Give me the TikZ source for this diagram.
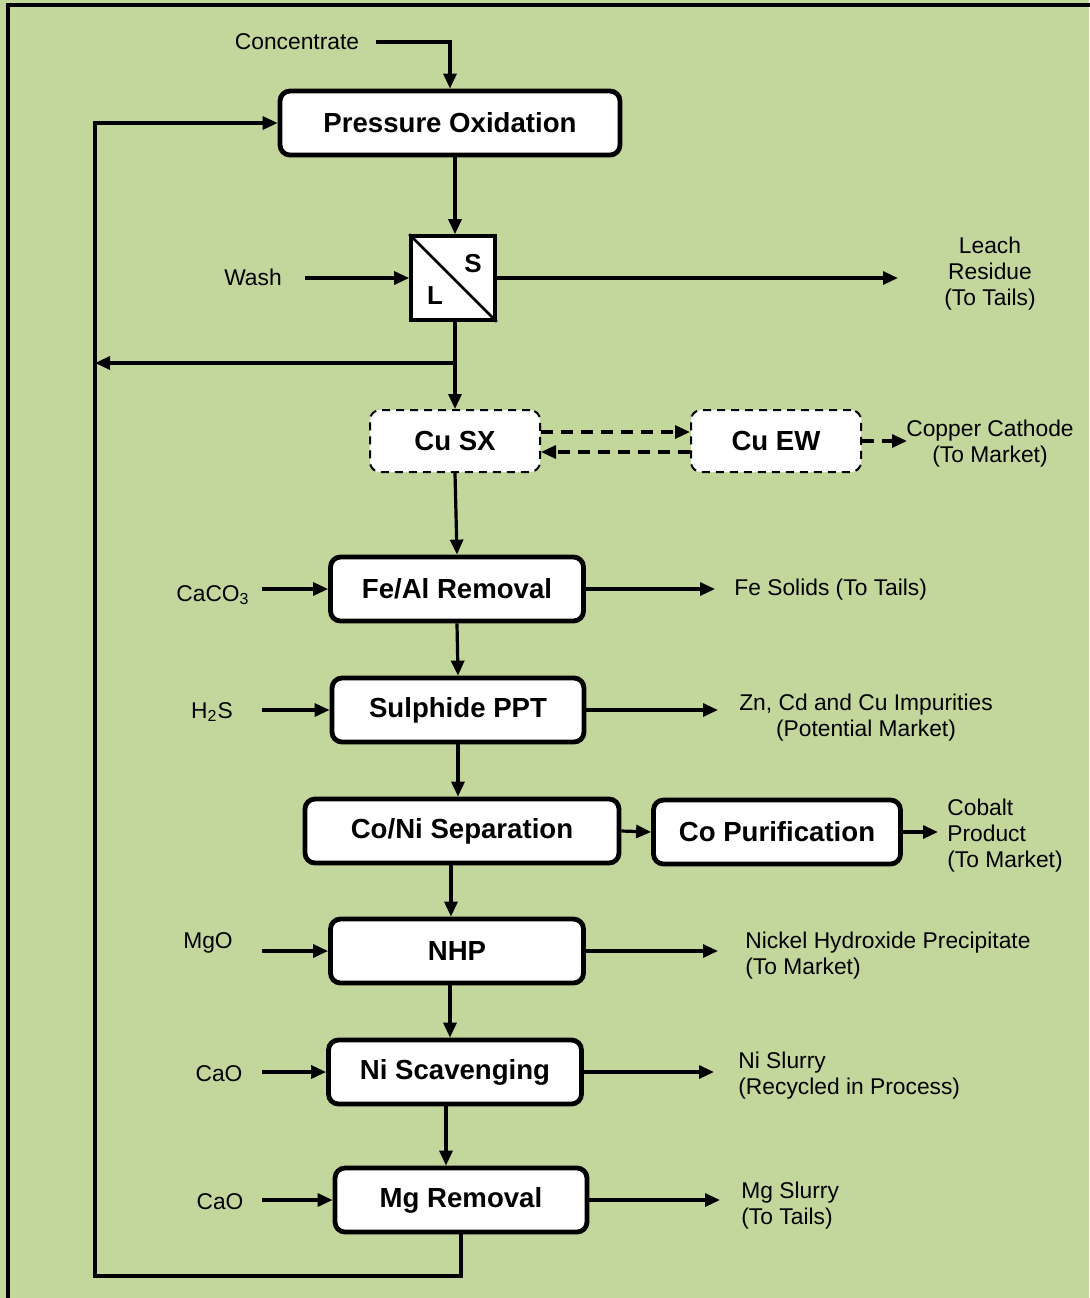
\documentclass[tikz,border=0pt]{standalone}
\usepackage{fontspec}
\setmainfont{Liberation Sans}
\usetikzlibrary{arrows.meta}
\definecolor{leafgreen}{HTML}{C3D69B}

\begin{document}
\begin{tikzpicture}[x=0.5pt, y=-0.5pt, >={Triangle[length=7.5pt,width=6.5pt]},
    proc/.style={draw, line width=2.4pt, rounded corners=5pt, fill=white, inner sep=0pt,
        minimum height=32pt, font=\bfseries\fontsize{13.8}{15}\selectfont},
    dbox/.style={draw, dashed, line width=1pt, dash pattern=on 4pt off 3pt, rounded corners=5pt,
        fill=white, inner sep=0pt, minimum width=85pt, minimum height=31pt,
        font=\bfseries\fontsize{13.8}{15}\selectfont},
    lbl/.style={inner sep=0pt, font=\fontsize{11.4}{13}\selectfont},
    flow/.style={line width=1.6pt},
    dflow/.style={line width=1.6pt, dash pattern=on 6pt off 4pt}]
    \useasboundingbox (0,0) rectangle (1089,1298);
    \fill[leafgreen] (0,0) rectangle (1089,1298);
    \draw[line width=1.6pt] (8,1320) -- (8,5) -- (1100,5);

    % main column
    \node[proc, minimum width=170pt] (po) at (450,123) {Pressure Oxidation};
    \node[draw, fill=white, line width=1.8pt, minimum size=42pt, inner sep=0pt] (sl) at (453,278) {};
    \draw[line width=1.3pt] (sl.north west) -- (sl.south east);
    \node[font=\bfseries\fontsize{13}{15}\selectfont] (slS) at (473,264) {S};
    \node[font=\bfseries\fontsize{13}{15}\selectfont] (slL) at (435,296) {L};
    \node[dbox] (cusx) at (455,441) {Cu SX};
    \node[dbox] (cuew) at (776,441) {Cu EW};
    \node[proc, minimum width=126.5pt] (feal) at (457,589) {Fe/Al Removal};
    \node[proc, minimum width=126pt] (sulph) at (458,710) {Sulphide PPT};
    \node[proc, minimum width=157pt] (coni) at (462,831) {Co/Ni Separation};
    \node[proc, minimum width=123.5pt] (copur) at (777,832) {Co Purification};
    \node[proc, minimum width=126.5pt] (nhp) at (457,951) {NHP};
    \node[proc, minimum width=126.5pt] (nisc) at (455,1072) {Ni Scavenging};
    \node[proc, minimum width=126pt] (mgrem) at (461,1200) {Mg Removal};

    % feeds
    \node[lbl] (conc) at (297,42) {Concentrate};
    \node[lbl] (wash) at (253,277) {Wash};
    \node[lbl] (caco) at (213,595) {CaCO\textsubscript{3}};
    \node[lbl] (hs) at (212,712) {H\textsubscript{2}S};
    \node[lbl] (mgo) at (208,943) {MgO};
    \node[lbl] (caoa) at (219,1074) {CaO};
    \node[lbl] (caob) at (220,1202) {CaO};
    \coordinate (concin) at (376,42);
    \coordinate (washin) at (305,278);
    \coordinate (cacoin) at (262,589);
    \coordinate (hsin) at (262,710);
    \coordinate (mgoin) at (262,951);
    \coordinate (caoain) at (262,1072);
    \coordinate (caobin) at (262,1200);

    % products
    \node[lbl, align=center] (leach) at (990,274) {Leach\\Residue\\(To Tails)};
    \node[lbl, align=center] (cathode) at (990,444) {Copper Cathode\\(To Market)};
    \node[lbl, anchor=west] (fesol) at (734,590) {Fe Solids (To Tails)};
    \node[lbl, align=center] (impur) at (866,718) {Zn, Cd and Cu Impurities\\(Potential Market)};
    \node[lbl, align=left, anchor=west] (cobalt) at (947,836) {Cobalt\\Product\\(To Market)};
    \node[lbl, align=left, anchor=west] (nihyd) at (745,956) {Nickel Hydroxide Precipitate\\(To Market)};
    \node[lbl, align=left, anchor=west] (nislur) at (738,1076) {Ni Slurry\\(Recycled in Process)};
    \node[lbl, align=left, anchor=west] (mgslur) at (741,1206) {Mg Slurry\\(To Tails)};
    \coordinate (leachout) at (898,278);
    \coordinate (cathout) at (907,441);
    \coordinate (feout) at (715,589);
    \coordinate (impout) at (718,710);
    \coordinate (coout) at (938,832);
    \coordinate (nhpout) at (718,951);
    \coordinate (nisout) at (714,1072);
    \coordinate (mgout) at (720,1200);

    % recycle loop
    \coordinate (split) at (455,363);
    \coordinate (ret) at (95,1276);

    % connectors
    \draw[flow, ->] (concin) -| (po.north);
    \draw[flow, ->] (po.south -| 455,0) -- (sl.north -| 455,0);
    \draw[flow, ->] (washin) -- (sl.west);
    \draw[flow, ->] (sl.east) -- (leachout);
    \draw[flow, ->] (sl.south -| cusx.north) -- (cusx.north);
    \draw[flow, ->] (split) -- (split -| ret);
    \draw[dflow, ->] ([yshift=4.5pt]cusx.east) -- ([yshift=4.5pt]cuew.west);
    \draw[dflow, ->] ([yshift=-5.5pt]cuew.west) -- ([yshift=-5.5pt]cusx.east);
    \draw[dflow, ->] (cuew.east) -- (cathout);
    \draw[flow, ->] (cusx.south) -- (feal.north);
    \draw[flow, ->] (cacoin) -- (feal.west);
    \draw[flow, ->] (feal.east) -- (feout);
    \draw[flow, ->] (feal.south) -- (sulph.north);
    \draw[flow, ->] (hsin) -- (sulph.west);
    \draw[flow, ->] (sulph.east) -- (impout);
    \draw[flow, ->] (sulph.south) -- (coni.north -| sulph.south);
    \draw[flow, ->] (coni.east) -- (copur.west);
    \draw[flow, ->] (copur.east) -- (coout);
    \draw[flow, ->] (coni.south -| 451,0) -- (nhp.north -| 451,0);
    \draw[flow, ->] (mgoin) -- (nhp.west);
    \draw[flow, ->] (nhp.east) -- (nhpout);
    \draw[flow, ->] (nhp.south -| 450,0) -- (nisc.north -| 450,0);
    \draw[flow, ->] (caoain) -- (nisc.west);
    \draw[flow, ->] (nisc.east) -- (nisout);
    \draw[flow, ->] (nisc.south -| 446,0) -- (mgrem.north -| 446,0);
    \draw[flow, ->] (caobin) -- (mgrem.west);
    \draw[flow, ->] (mgrem.east) -- (mgout);
    \draw[flow, ->] (mgrem.south) |- (ret) |- (po.west);
\end{tikzpicture}
\end{document}
